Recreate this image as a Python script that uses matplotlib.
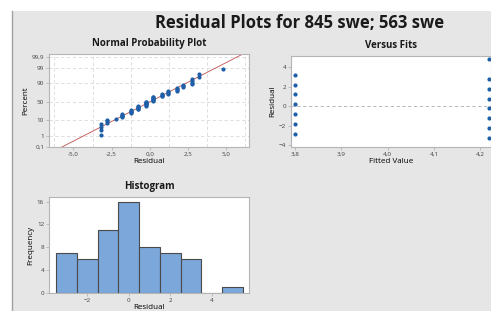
import numpy as np
import matplotlib
matplotlib.use("Agg")
import matplotlib.pyplot as plt
from matplotlib.patches import Rectangle
from matplotlib.ticker import MultipleLocator, FixedLocator

plt.rcParams['font.family'] = ['Open Sans', 'DejaVu Sans']

# residuals per group (fitted value, distinct residual values, counts)
fit_1 = 3.8
res_1 = [-2.8, -1.8, -0.8, 0.2, 1.2, 2.2, 3.2]
cnt_1 = [3, 5, 6, 8, 4, 3, 2]
fit_2 = 4.2188
res_2 = [-3.22, -2.22, -1.22, -0.22, 0.78, 1.78, 2.78, 4.78]
cnt_2 = [4, 1, 5, 8, 4, 4, 4, 1]

prob_ticks = [0.1, 1, 10, 50, 90, 99, 99.9]
prob_labels = ['0,1', '1', '10', '50', '90', '99', '99,9']
resid_ticks = [-5.0, -2.5, 0.0, 2.5, 5.0]
resid_labels = ['-5,0', '-2,5', '0,0', '2,5', '5,0']
fit_ticks = [3.8, 3.9, 4.0, 4.1, 4.2]
fit_labels = ['3,8', '3,9', '4,0', '4,1', '4,2']
hist_bins = np.arange(-3.5, 6.0, 1.0)

resid = np.sort(np.concatenate([np.repeat(res_1, cnt_1), np.repeat(res_2, cnt_2)]))
n = len(resid)


def norm_ppf(p):
    # inverse normal cdf (Acklam approximation)
    a = [-3.969683028665376e+01, 2.209460984245205e+02, -2.759285104469687e+02,
         1.383577518672690e+02, -3.066479806614716e+01, 2.506628277459239e+00]
    b = [-5.447609879822406e+01, 1.615858368580409e+02, -1.556989798598866e+02,
         6.680131188771972e+01, -1.328068155288572e+01]
    c = [-7.784894002430293e-03, -3.223964580411365e-01, -2.400758277161838e+00,
         -2.549732539343734e+00, 4.374664141464968e+00, 2.938163982698783e+00]
    d = [7.784695709041462e-03, 3.224671290700398e-01, 2.445134137142996e+00,
         3.754408661907416e+00]
    p = np.atleast_1d(np.asarray(p, dtype=float))
    out = np.zeros_like(p)
    lo = p < 0.02425
    hi = p > 1 - 0.02425
    mid = ~(lo | hi)
    q = np.sqrt(-2 * np.log(p[lo]))
    out[lo] = (((((c[0]*q+c[1])*q+c[2])*q+c[3])*q+c[4])*q+c[5]) / ((((d[0]*q+d[1])*q+d[2])*q+d[3])*q+1)
    q = np.sqrt(-2 * np.log(1 - p[hi]))
    out[hi] = -(((((c[0]*q+c[1])*q+c[2])*q+c[3])*q+c[4])*q+c[5]) / ((((d[0]*q+d[1])*q+d[2])*q+d[3])*q+1)
    q = p[mid] - 0.5
    r = q * q
    out[mid] = (((((a[0]*r+a[1])*r+a[2])*r+a[3])*r+a[4])*r+a[5])*q / (((((b[0]*r+b[1])*r+b[2])*r+b[3])*r+b[4])*r+1)
    return out


W, H = 491, 311
fig = plt.figure(figsize=(W / 100, H / 100), dpi=100)
fig.patch.set_facecolor('white')

bg = '#e6e6e6'
fig.add_artist(Rectangle((12 / W, 0), 1, 300 / H, transform=fig.transFigure,
                         facecolor=bg, edgecolor='none', zorder=-10))
fig.add_artist(plt.Line2D([12 / W, 12 / W], [0, 300 / H], transform=fig.transFigure,
                          color='#a0a0a0', lw=1.0))

def box(l, t, r, b):
    return [l / W, (H - b) / H, (r - l) / W, (b - t) / H]

blue = '#1f5fa8'
tick_col = '#404040'
spine_col = '#b5b5b5'
tfs = 4.5
lfs = 5.8
msize = 9


def style(ax):
    ax.set_facecolor('white')
    for s in ax.spines.values():
        s.set_color(spine_col)
        s.set_linewidth(0.8)
    ax.tick_params(labelsize=tfs, colors=spine_col, labelcolor=tick_col,
                   length=2, width=0.6, pad=1.5)


fig.text(300 / W, 1 - 22.5 / H, 'Residual Plots for 845 swe; 563 swe', ha='center', va='center',
         fontsize=12, fontweight='bold', color='#1a1a1a')

# normal probability plot
ax1 = fig.add_axes(box(49, 54, 249, 147))
style(ax1)
pct = (np.arange(1, n + 1) - 0.3) / (n + 0.4)
ax1.scatter(resid, norm_ppf(pct), s=msize, color=blue, zorder=3, linewidths=0)
mu, sd = resid.mean(), resid.std(ddof=1)
xl = np.array([-6.6, 6.5])
ax1.plot(xl, (xl - mu) / sd, color='#c0504d', lw=0.6, zorder=2)
ax1.set_xlim(-6.6, 6.5)
ax1.set_ylim(-3.12, 3.3)
ax1.xaxis.set_major_locator(FixedLocator(resid_ticks))
ax1.set_xticklabels(resid_labels)
ax1.xaxis.set_minor_locator(MultipleLocator(1.25))
ax1.set_yticks(norm_ppf(np.array(prob_ticks) / 100))
ax1.set_yticklabels(prob_labels)
ax1.grid(True, which='minor', axis='x', ls=(0, (4, 3)), color='#d9d9d9', lw=0.6)
ax1.grid(True, which='major', axis='y', ls=(0, (4, 3)), color='#d9d9d9', lw=0.6)
ax1.tick_params(which='minor', length=0)
ax1.set_xlabel('Residual', fontsize=lfs, labelpad=1)
ax1.set_ylabel('Percent', fontsize=lfs, labelpad=2)
ax1.set_title('Normal Probability Plot', fontsize=7, fontweight='bold', pad=6, color='#1a1a1a')

# versus fits
ax2 = fig.add_axes(box(291, 56, 491, 147))
style(ax2)
ax2.scatter([fit_1] * len(res_1), res_1, s=msize, color=blue, linewidths=0, zorder=3)
ax2.scatter([fit_2] * len(res_2), res_2, s=msize, color=blue, linewidths=0, zorder=3)
ax2.axhline(0, color='#b0b0b0', ls=(0, (4, 3)), lw=0.6)
ax2.set_xlim(3.791, 4.223)
ax2.set_ylim(-4.17, 5.12)
ax2.set_xticks(fit_ticks)
ax2.set_xticklabels(fit_labels)
ax2.set_yticks([-4, -2, 0, 2, 4])
ax2.set_xlabel('Fitted Value', fontsize=lfs, labelpad=1)
ax2.set_ylabel('Residual', fontsize=lfs, labelpad=2)
ax2.set_title('Versus Fits', fontsize=7, fontweight='bold', pad=6, color='#1a1a1a')

# histogram
ax3 = fig.add_axes(box(49, 197, 249, 293))
style(ax3)
ax3.hist(resid, bins=hist_bins, color='#7ba7da', edgecolor='#4a4a4a', linewidth=0.8)
ax3.set_xlim(-3.85, 5.8)
ax3.set_ylim(0, 16.8)
ax3.set_xticks([-2, 0, 2, 4])
ax3.set_yticks([0, 4, 8, 12, 16])
ax3.set_xlabel('Residual', fontsize=lfs, labelpad=1)
ax3.set_ylabel('Frequency', fontsize=lfs, labelpad=2)
ax3.set_title('Histogram', fontsize=7, fontweight='bold', pad=6, color='#1a1a1a')

fig.savefig('out.png', dpi=100)
